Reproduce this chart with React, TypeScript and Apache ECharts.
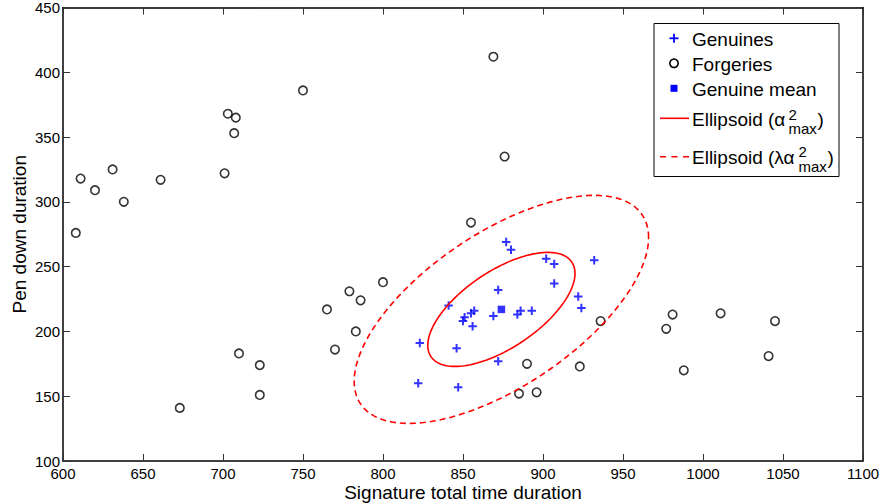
import React, { useEffect, useRef } from "react";
import * as echarts from "echarts";

// Axis ranges
const xRange = [600, 1100];
const yRange = [100, 450];
const tickStep = 50;

// Forgeries: signature total time duration / pen down duration
const forgeryTime = [608, 611, 620, 631, 638, 661, 673, 701, 703, 707, 708, 710, 723, 723, 750, 765, 770, 779, 783, 786, 800, 855, 869, 876, 885, 890, 896, 923, 936, 977, 981, 988, 1011, 1041, 1045];
const forgeryPen = [276, 318, 309, 325, 300, 317, 141, 322, 368, 353, 365, 183, 174, 151, 386, 217, 186, 231, 200, 224, 238, 284, 412, 335, 152, 175, 153, 173, 208, 202, 213, 170, 214, 181, 208];

// Genuines
const genuineTime = [822, 823, 841, 846, 847, 850, 851, 855, 856, 857, 869, 872, 872, 877, 880, 884, 886, 893, 902, 907, 907, 922, 924, 932];
const genuinePen = [160, 191, 220, 187, 157, 208, 211, 214, 204, 216, 212, 232, 177, 269, 263, 213, 216, 216, 256, 252, 237, 227, 218, 255];

// Genuine mean
const genuineMean = [874, 217];

// Ellipsoid: alpha^2_max * covariance, and lambda scale factors
const ellipseCov = [
  [2116, 1276],
  [1276, 1936],
];
const ellipseScales = [1, 4];

const FONT = "'Liberation Sans', Arial, Helvetica, sans-serif";
const PLUS = "path://M0,5H10M5,0V10";

export default function App() {
  const ref = useRef<HTMLDivElement>(null);

  useEffect(() => {
    document.body.style.margin = "0";
    const chart = echarts.init(ref.current!, undefined, { renderer: "svg" });

    const forgeries = forgeryTime.map((x, i) => [x, forgeryPen[i]]);
    const genuines = genuineTime.map((x, i) => [x, genuinePen[i]]);
    const ellipses = ellipseScales.map((s) => [genuineMean[0], genuineMean[1], s]);

    const axisLine = { show: true, lineStyle: { color: "#000", width: 1.5 } };
    const axisTick = { show: true, inside: true, length: 7, lineStyle: { color: "#333", width: 1 } };

    const baseX = {
      type: "value" as const,
      min: xRange[0],
      max: xRange[1],
      interval: tickStep,
      splitLine: { show: false },
      axisLine,
      axisTick,
    };
    const baseY = {
      type: "value" as const,
      min: yRange[0],
      max: yRange[1],
      interval: tickStep,
      splitLine: { show: false },
      axisLine,
      axisTick,
    };

    const txt = (text: string, x: number, y: number, size = 19) => ({
      type: "text",
      x,
      y,
      style: { text, fontSize: size, fontFamily: FONT, fill: "#000", align: "left", verticalAlign: "middle" },
      z: 101,
    });

    const lx0 = 660, lx1 = 689, iconX = 674;

    chart.setOption({
      animation: false,
      grid: { left: 63, right: 18, top: 7.5, bottom: 42, containLabel: false, outerBoundsMode: "none" },
      xAxis: [
        {
          ...baseX,
          position: "bottom",
          name: "Signature total time duration",
          nameLocation: "middle",
          nameGap: 22,
          nameMoveOverlap: false,
          nameTextStyle: { fontSize: 19, fontFamily: FONT, color: "#000" },
          axisLabel: { fontSize: 15, fontFamily: FONT, color: "#000", margin: 5, formatter: (v: number) => String(v) },
        },
        { ...baseX, position: "top", axisLabel: { show: false } },
      ],
      yAxis: [
        {
          ...baseY,
          position: "left",
          name: "Pen down duration",
          nameLocation: "middle",
          nameGap: 34,
          nameMoveOverlap: false,
          nameTextStyle: { fontSize: 19, fontFamily: FONT, color: "#000" },
          axisLabel: { fontSize: 15, fontFamily: FONT, color: "#000", margin: 3, formatter: (v: number) => String(v) },
        },
        { ...baseY, position: "right", axisLabel: { show: false } },
      ],
      series: [
        {
          name: "Genuines",
          type: "scatter",
          data: genuines,
          symbol: PLUS,
          symbolSize: 8.5,
          itemStyle: { color: "#0000ff", borderColor: "#0000ff", borderWidth: 2 },
          z: 2,
        },
        {
          name: "Forgeries",
          type: "scatter",
          data: forgeries,
          symbol: "circle",
          symbolSize: 8.5,
          itemStyle: { color: "transparent", borderColor: "#000", borderWidth: 1.6 },
          z: 2,
        },
        {
          name: "Genuine mean",
          type: "scatter",
          data: [genuineMean],
          symbol: "rect",
          symbolSize: 7.5,
          itemStyle: { color: "#0000ff" },
          z: 3,
        },
        {
          name: "Ellipsoid",
          type: "custom",
          data: ellipses,
          z: 4,
          renderItem: (params: any, api: any) => {
            const cx = api.value(0);
            const cy = api.value(1);
            const lam = api.value(2);
            const k = Math.sqrt(lam);
            const l11 = Math.sqrt(ellipseCov[0][0]);
            const l21 = ellipseCov[1][0] / l11;
            const l22 = Math.sqrt(ellipseCov[1][1] - l21 * l21);
            const pts: number[][] = [];
            const n = 180;
            for (let i = 0; i <= n; i++) {
              const t = (2 * Math.PI * i) / n;
              const dx = k * l11 * Math.cos(t);
              const dy = k * (l21 * Math.cos(t) + l22 * Math.sin(t));
              pts.push(api.coord([cx + dx, cy + dy]));
            }
            return {
              type: "polyline",
              shape: { points: pts },
              style: {
                stroke: "#ff0000",
                lineWidth: 1.6,
                fill: "none",
                lineDash: lam > 1 ? [6, 4] : null,
              },
            };
          },
        },
      ],
      graphic: [
        {
          type: "rect",
          shape: { x: 654, y: 23.5, width: 185, height: 153 },
          style: { fill: "#fff", stroke: "#000", lineWidth: 1 },
          z: 100,
        },
        // Genuines icon
        { type: "line", shape: { x1: iconX - 4.5, y1: 38.3, x2: iconX + 4.5, y2: 38.3 }, style: { stroke: "#0000ff", lineWidth: 1.8 }, z: 101 },
        { type: "line", shape: { x1: iconX, y1: 33.8, x2: iconX, y2: 42.8 }, style: { stroke: "#0000ff", lineWidth: 1.8 }, z: 101 },
        txt("Genuines", 692, 39.3),
        // Forgeries icon
        { type: "circle", shape: { cx: iconX, cy: 63.3, r: 4.2 }, style: { fill: "none", stroke: "#000", lineWidth: 1.6 }, z: 101 },
        txt("Forgeries", 692, 64.3),
        // Mean icon
        { type: "rect", shape: { x: iconX - 3.5, y: 88.3 - 3.5, width: 7, height: 7 }, style: { fill: "#0000ff" }, z: 101 },
        txt("Genuine mean", 692, 89.3),
        // Ellipsoid alpha
        { type: "line", shape: { x1: lx0, y1: 118.3, x2: lx1, y2: 118.3 }, style: { stroke: "#ff0000", lineWidth: 1.6 }, z: 101 },
        txt("Ellipsoid (α", 692, 119.3),
        txt("2", 788.5, 114.5, 15),
        txt("max", 788.5, 128, 15),
        txt(")", 817.5, 119.3),
        // Ellipsoid lambda alpha
        { type: "line", shape: { x1: lx0, y1: 156.7, x2: lx1, y2: 156.7 }, style: { stroke: "#ff0000", lineWidth: 1.6, lineDash: [6, 5.5] }, z: 101 },
        txt("Ellipsoid (λα", 692, 157.6),
        txt("2", 798.5, 151.5, 15),
        txt("max", 798.5, 166, 15),
        txt(")", 827.5, 157.6),
      ],
    });

    return () => chart.dispose();
  }, []);

  return <div ref={ref} style={{ width: 881, height: 503 }} />;
}
